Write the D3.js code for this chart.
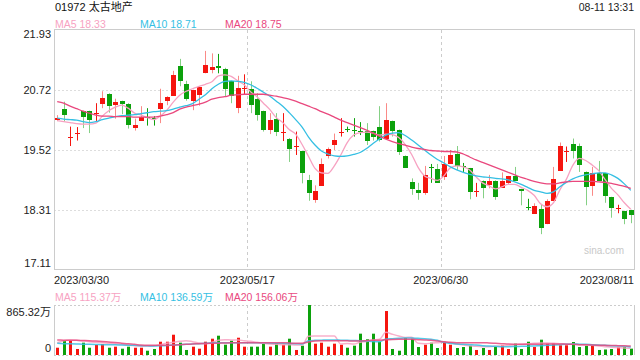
<!DOCTYPE html>
<html>
<head>
<meta charset="utf-8">
<script src="https://cdn.jsdelivr.net/npm/d3@7"></script>
<style>
  body { margin: 0; background: #fff; }
  text { font-family: "Liberation Sans", Arial, "Noto Sans CJK SC", sans-serif; }
</style>
</head>
<body>
<div id="chart"></div>
<script>
// kline data, 01972 daily
const dates = [
  "2023/03/30","2023/03/31",
  "2023/04/03","2023/04/04","2023/04/06","2023/04/11","2023/04/12","2023/04/13","2023/04/14","2023/04/17","2023/04/18",
  "2023/04/19","2023/04/20","2023/04/21","2023/04/24","2023/04/25","2023/04/26","2023/04/27","2023/04/28",
  "2023/05/02","2023/05/03","2023/05/04","2023/05/05","2023/05/08","2023/05/09","2023/05/10","2023/05/11","2023/05/12",
  "2023/05/15","2023/05/16","2023/05/17","2023/05/18","2023/05/19","2023/05/22","2023/05/23","2023/05/24","2023/05/25",
  "2023/05/29","2023/05/30","2023/05/31",
  "2023/06/01","2023/06/02","2023/06/05","2023/06/06","2023/06/07","2023/06/08","2023/06/09","2023/06/12","2023/06/13",
  "2023/06/14","2023/06/15","2023/06/16","2023/06/19","2023/06/20","2023/06/21","2023/06/23","2023/06/26","2023/06/27",
  "2023/06/28","2023/06/29","2023/06/30",
  "2023/07/03","2023/07/04","2023/07/05","2023/07/06","2023/07/07","2023/07/10","2023/07/11","2023/07/12","2023/07/13",
  "2023/07/14","2023/07/18","2023/07/19","2023/07/20","2023/07/21","2023/07/24","2023/07/25","2023/07/26","2023/07/27",
  "2023/07/28","2023/07/31",
  "2023/08/01","2023/08/02","2023/08/03","2023/08/04","2023/08/07","2023/08/08","2023/08/09","2023/08/10","2023/08/11"
];
const opens = [
  20.13, 20.34, 19.77, 19.84, 20.30, 20.30, 20.25, 20.44, 20.65, 20.41,
  20.50, 20.44, 19.95, 20.11, 20.19, 20.16, 20.34, 20.51, 20.61, 21.21,
  20.85, 20.51, 20.62, 21.06, 21.11, 21.21, 21.15, 20.90, 20.36, 20.75,
  20.75, 20.54, 20.30, 19.92, 20.14, 19.87, 19.75, 19.59, 19.49, 18.92,
  18.52, 18.80, 19.39, 19.62, 19.86, 19.95, 19.92, 19.91, 19.90, 19.90,
  19.99, 19.74, 20.10, 19.92, 19.40, 18.87, 18.72, 18.66, 19.18, 19.14,
  18.98, 19.24, 19.44, 19.19, 19.15, 18.67, 18.90, 18.80, 18.90, 18.76,
  18.85, 19.00, 18.73, 18.38, 18.24, 18.33, 18.03, 18.50, 19.10, 19.47,
  19.64, 19.60, 19.08, 18.80, 19.06, 19.05, 18.57, 18.34, 18.29, 18.31
];
const highs = [
  20.22, 20.49, 19.99, 19.98, 20.31, 20.31, 20.46, 20.70, 20.66, 20.55,
  20.51, 20.46, 20.15, 20.40, 20.36, 20.20, 20.75, 20.60, 21.11, 21.35,
  20.91, 20.73, 20.79, 21.51, 21.46, 21.45, 21.17, 20.91, 21.01, 21.04,
  20.90, 20.66, 20.31, 20.26, 20.26, 20.26, 19.76, 19.89, 19.50, 19.02,
  18.81, 19.35, 19.57, 19.85, 20.16, 19.99, 20.16, 20.08, 20.06, 19.91,
  20.40, 20.46, 20.11, 19.93, 19.41, 18.95, 18.86, 19.20, 19.24, 19.24,
  19.40, 19.52, 19.60, 19.26, 19.16, 18.86, 18.91, 19.02, 18.91, 19.07,
  19.00, 19.18, 18.74, 18.54, 18.45, 18.43, 18.53, 19.18, 19.67, 19.59,
  19.75, 19.65, 19.09, 19.18, 19.30, 19.06, 18.58, 18.42, 18.30, 18.32
];
const lows = [
  20.10, 20.09, 19.60, 19.71, 19.96, 19.86, 20.09, 20.36, 20.27, 20.15,
  20.24, 19.95, 19.91, 20.11, 20.01, 20.01, 20.06, 20.42, 20.61, 20.80,
  20.51, 20.32, 20.41, 21.06, 21.06, 21.06, 20.59, 20.46, 20.26, 20.64,
  20.26, 20.11, 19.89, 19.84, 19.80, 19.70, 19.28, 19.42, 18.85, 18.50,
  18.46, 18.80, 19.35, 19.52, 19.79, 19.88, 19.79, 19.82, 19.62, 19.71,
  19.69, 19.74, 19.79, 19.42, 19.16, 18.62, 18.52, 18.62, 18.86, 18.86,
  18.92, 19.24, 19.12, 19.08, 18.53, 18.58, 18.55, 18.75, 18.52, 18.76,
  18.83, 18.90, 18.41, 18.31, 18.24, 17.83, 18.03, 18.50, 19.10, 19.28,
  19.35, 19.08, 18.41, 18.60, 18.90, 18.46, 18.16, 18.25, 18.03, 18.05
];
const closes = [
  20.17, 20.21, 19.79, 19.86, 20.17, 20.11, 20.27, 20.56, 20.41, 20.48,
  20.44, 20.01, 20.02, 20.19, 20.16, 20.15, 20.47, 20.59, 21.03, 20.91,
  20.55, 20.73, 20.79, 21.23, 21.18, 21.17, 20.75, 20.59, 20.76, 20.77,
  20.42, 20.21, 19.92, 20.12, 19.87, 19.89, 19.54, 19.61, 19.04, 18.66,
  18.70, 19.24, 19.54, 19.72, 19.88, 19.93, 19.90, 19.89, 19.70, 19.77,
  19.73, 20.12, 19.89, 19.47, 19.16, 18.72, 18.65, 19.02, 19.16, 18.86,
  19.24, 19.42, 19.20, 19.16, 18.66, 18.69, 18.76, 18.89, 18.58, 18.90,
  19.00, 18.90, 18.68, 18.36, 18.40, 17.95, 18.49, 18.94, 19.60, 19.49,
  19.50, 19.22, 18.78, 19.06, 18.90, 18.58, 18.34, 18.36, 18.13, 18.21
];
const ma5 = [
  20.11, 20.09, 20.07, 20.05, 20.04, 20.04, 20.06, 20.20, 20.31, 20.38,
  20.42, 20.36, 20.26, 20.22, 20.17, 20.13, 20.20, 20.32, 20.48, 20.62,
  20.70, 20.75, 20.80, 20.84, 20.89, 21.01, 21.03, 21.00, 20.91, 20.83,
  20.69, 20.59, 20.46, 20.33, 20.17, 20.07, 19.93, 19.84, 19.63, 19.39,
  19.15, 19.06, 19.05, 19.20, 19.42, 19.67, 19.82, 19.87, 19.88, 19.86,
  19.82, 19.84, 19.83, 19.77, 19.63, 19.43, 19.17, 19.00, 18.95, 18.91,
  19.00, 19.16, 19.20, 19.18, 19.12, 18.98, 18.86, 18.80, 18.74, 18.78,
  18.83, 18.83, 18.77, 18.71, 18.61, 18.44, 18.38, 18.46, 18.72, 18.93,
  19.21, 19.35, 19.31, 19.22, 19.11, 18.93, 18.75, 18.62, 18.46, 18.33
];
const ma10 = [
  20.16, 20.14, 20.13, 20.12, 20.09, 20.07, 20.09, 20.13, 20.16, 20.19,
  20.21, 20.22, 20.23, 20.25, 20.27, 20.29, 20.30, 20.31, 20.34, 20.38,
  20.41, 20.45, 20.54, 20.63, 20.75, 20.84, 20.90, 20.91, 20.90, 20.88,
  20.83, 20.76, 20.68, 20.60, 20.50, 20.40, 20.27, 20.13, 19.98, 19.78,
  19.62, 19.50, 19.44, 19.40, 19.39, 19.40, 19.43, 19.47, 19.55, 19.65,
  19.74, 19.82, 19.86, 19.87, 19.81, 19.72, 19.62, 19.52, 19.42, 19.33,
  19.26, 19.18, 19.12, 19.07, 19.03, 19.00, 18.98, 18.97, 18.95, 18.94,
  18.92, 18.88, 18.83, 18.77, 18.71, 18.68, 18.65, 18.68, 18.78, 18.87,
  18.94, 18.99, 19.02, 19.04, 19.06, 19.06, 19.02, 18.95, 18.84, 18.71
];
const ma20 = [
  20.49, 20.46, 20.40, 20.35, 20.30, 20.26, 20.22, 20.20, 20.20, 20.19,
  20.19, 20.19, 20.18, 20.18, 20.18, 20.18, 20.20, 20.23, 20.27, 20.34,
  20.38, 20.41, 20.44, 20.48, 20.54, 20.57, 20.59, 20.62, 20.63, 20.64,
  20.64, 20.64, 20.64, 20.62, 20.60, 20.57, 20.54, 20.50, 20.45, 20.40,
  20.35, 20.29, 20.24, 20.18, 20.12, 20.07, 20.02, 19.97, 19.92, 19.86,
  19.80, 19.74, 19.69, 19.65, 19.62, 19.58, 19.55, 19.53, 19.51, 19.50,
  19.49, 19.49, 19.48, 19.44, 19.38, 19.32, 19.27, 19.22, 19.17, 19.12,
  19.07, 19.02, 18.97, 18.93, 18.89, 18.86, 18.84, 18.84, 18.86, 18.88,
  18.89, 18.89, 18.89, 18.89, 18.88, 18.87, 18.85, 18.82, 18.79, 18.75
];
// volume in 万 shares
const volumes = [
  126, 247, 247, 104, 213, 126, 173, 190, 126, 144,
  109, 144, 126, 126, 74, 104, 230, 230, 351, 213,
  87, 144, 109, 230, 282, 334, 178, 247, 299, 144,
  144, 144, 190, 144, 202, 178, 282, 87, 161, 865.32,
  196, 213, 144, 196, 178, 126, 161, 369, 272, 369,
  230, 761, 104, 74, 299, 282, 138, 178, 213, 121,
  230, 178, 121, 138, 161, 87, 121, 87, 138, 173,
  104, 196, 104, 230, 138, 265, 196, 208, 168, 168,
  225, 138, 161, 173, 87, 95, 104, 138, 138, 110
];
const volMa5 = [
  213, 248, 260, 254, 242, 231, 219, 213, 202, 196,
  185, 173, 162, 156, 150, 156, 179, 202, 219, 237,
  248, 231, 208, 196, 219, 254, 265, 260, 260, 248,
  237, 219, 202, 190, 185, 179, 179, 173, 173, 323,
  329, 329, 329, 329, 190, 200, 190, 220, 235, 260,
  271, 392, 360, 330, 305, 306, 202, 196, 202, 213,
  225, 213, 190, 173, 162, 150, 144, 144, 150, 162,
  167, 179, 185, 196, 202, 208, 208, 202, 196, 190,
  185, 179, 173, 167, 156, 144, 133, 127, 121, 115.37
];
const volMa10 = [
  202, 196, 193, 190, 187, 185, 182, 179, 179, 176,
  173, 170, 167, 162, 159, 156, 159, 164, 173, 179,
  185, 190, 196, 202, 208, 213, 213, 213, 213, 213,
  213, 213, 211, 208, 205, 202, 199, 196, 190, 248,
  254, 257, 260, 260, 257, 254, 251, 248, 242, 234,
  231, 277, 283, 288, 294, 294, 288, 283, 271, 254,
  219, 202, 190, 185, 179, 173, 162, 156, 150, 144,
  144, 147, 150, 153, 156, 162, 167, 173, 179, 185,
  190, 187, 185, 179, 173, 167, 162, 156, 150, 136.59
];
const volMa20 = [
  260, 257, 254, 254, 251, 248, 242, 234, 225, 216,
  205, 193, 185, 173, 167, 167, 167, 167, 170, 176,
  185, 190, 196, 199, 202, 205, 208, 211, 213, 213,
  213, 213, 213, 213, 213, 213, 208, 202, 205, 225,
  242, 248, 248, 248, 248, 245, 242, 242, 248, 254,
  257, 262, 268, 271, 271, 271, 265, 260, 254, 242,
  231, 219, 213, 213, 213, 213, 213, 208, 202, 196,
  190, 187, 185, 185, 185, 187, 190, 190, 190, 187,
  185, 179, 176, 173, 170, 167, 164, 162, 159, 156.06
];
const priceTicks = [17.11, 18.315, 19.52, 20.725, 21.93];
const priceLabels = ["17.11", "18.31", "19.52", "20.72", "21.93"];
const volTicks = [0, 865.32];
const volLabels = ["0", "865.32万"];
const dateTickIdx = [0, 30, 60, 89];

(function() {
    const W = 640, H = 360;
    const plot = { left: 54, right: 634, top: 30, bottom: 270 };
    const vol = { top: 305, bottom: 355 };
    const upColor = "#f5150f", downColor = "#0ca10c";
    const maColors = ["#f7a2c2", "#35bfe3", "#e9487e"];

    const svg = d3.select("#chart")
        .append("svg")
        .attr("width", W)
        .attr("height", H);

    const x = d3.scaleBand()
        .domain(dates)
        .range([plot.left, plot.right])
        .paddingInner(0.22)
        .paddingOuter(0.11);
    const cx = d => x(d) + x.bandwidth() / 2;
    const edge = i => i === dates.length - 1 ? plot.right : cx(dates[i]) - x.step() / 2;

    const y = d3.scaleLinear().domain([17.11, 21.93]).range([plot.bottom, plot.top]);
    const yv = d3.scaleLinear().domain([0, 865.32]).range([vol.bottom, vol.top]);

    const candles = dates.map((d, i) => ({
        date: d, o: opens[i], h: highs[i], l: lows[i], c: closes[i], v: volumes[i]
    }));
    const colorOf = d => d.c >= d.o ? upColor : downColor;

    // grid: dotted horizontals, dashed verticals
    svg.append("g")
        .selectAll("line")
        .data(priceTicks.slice(1, -1))
        .enter()
        .append("line")
        .attr("x1", plot.left).attr("x2", plot.right)
        .attr("y1", d => Math.round(y(d)) + 0.5).attr("y2", d => Math.round(y(d)) + 0.5)
        .attr("stroke", "#ddd")
        .attr("stroke-dasharray", "2,2");

    [[plot.top, plot.bottom], [vol.top, vol.bottom]].forEach(([t, b]) => {
        svg.append("g")
            .selectAll("line")
            .data(dateTickIdx.slice(1, -1))
            .enter()
            .append("line")
            .attr("x1", i => Math.round(edge(i)) + 0.5).attr("x2", i => Math.round(edge(i)) + 0.5)
            .attr("y1", t).attr("y2", b)
            .attr("stroke", "#ccc")
            .attr("stroke-dasharray", "3,3");
    });

    // borders
    svg.append("rect")
        .attr("x", plot.left + 0.5).attr("y", plot.top - 0.5)
        .attr("width", plot.right - plot.left).attr("height", plot.bottom - plot.top)
        .attr("fill", "none")
        .attr("stroke", "#ccc");
    [vol.top, vol.bottom].forEach(v => {
        svg.append("line")
            .attr("x1", plot.left).attr("x2", plot.right)
            .attr("y1", v + 0.5).attr("y2", v + 0.5)
            .attr("stroke", "#ccc")
            .attr("stroke-dasharray", "2,2");
    });
    [plot.left, plot.right].forEach(v => {
        svg.append("line")
            .attr("x1", v + 0.5).attr("x2", v + 0.5)
            .attr("y1", vol.top).attr("y2", vol.bottom)
            .attr("stroke", "#ccc");
    });

    // watermark
    svg.append("text")
        .attr("x", 624).attr("y", 254)
        .attr("text-anchor", "end")
        .attr("font-size", "10px")
        .attr("fill", "#c8c8c8")
        .text("sina.com");

    // candles
    const cg = svg.append("g");
    cg.selectAll("line.wick")
        .data(candles)
        .enter()
        .append("line")
        .attr("class", "wick")
        .attr("x1", d => Math.round(cx(d.date)) + 0.5).attr("x2", d => Math.round(cx(d.date)) + 0.5)
        .attr("y1", d => y(d.h)).attr("y2", d => y(d.l))
        .attr("stroke", colorOf)
        .attr("stroke-opacity", d => Math.abs(d.c - d.o) < 0.04 ? 1 : 0.5);

    cg.selectAll("rect.body")
        .data(candles)
        .enter()
        .append("rect")
        .attr("class", "body")
        .attr("x", d => Math.round(cx(d.date)) - 2)
        .attr("y", d => Math.round(y(Math.max(d.o, d.c))))
        .attr("width", 5)
        .attr("height", d => Math.max(1, Math.round(Math.abs(y(d.o) - y(d.c)))))
        .attr("fill", colorOf);

    // MA lines
    const line = d3.line()
        .x((d, i) => cx(dates[i]))
        .y(d => y(d))
        .curve(d3.curveMonotoneX);
    [ma5, ma10, ma20].forEach((s, k) => {
        svg.append("path")
            .datum(s)
            .attr("d", line)
            .attr("fill", "none")
            .attr("stroke", maColors[k])
            .attr("stroke-width", 1.3);
    });

    // volume bars
    svg.append("g")
        .selectAll("rect")
        .data(candles)
        .enter()
        .append("rect")
        .attr("x", d => Math.round(cx(d.date)) - 1)
        .attr("y", d => yv(d.v))
        .attr("width", 3)
        .attr("height", d => vol.bottom - yv(d.v))
        .attr("fill", colorOf);

    const vline = d3.line()
        .x((d, i) => cx(dates[i]))
        .y(d => yv(d))
        .curve(d3.curveMonotoneX);
    [volMa5, volMa10, volMa20].forEach((s, k) => {
        svg.append("path")
            .datum(s)
            .attr("d", vline)
            .attr("fill", "none")
            .attr("stroke", maColors[k])
            .attr("stroke-opacity", 0.85)
            .attr("stroke-width", 1.5);
    });

    // y axes
    const yAxis = svg.append("g")
        .attr("transform", `translate(${plot.left},0)`)
        .call(d3.axisLeft(y).tickValues(priceTicks).tickSize(0).tickPadding(3)
            .tickFormat((d, i) => priceLabels[i]));
    const vAxis = svg.append("g")
        .attr("transform", `translate(${plot.left},0)`)
        .call(d3.axisLeft(yv).tickValues(volTicks).tickSize(0).tickPadding(3)
            .tickFormat((d, i) => volLabels[i]));
    [yAxis, vAxis].forEach(g => {
        g.select(".domain").remove();
        g.selectAll("text")
            .attr("font-size", "11px")
            .attr("font-family", null)
            .attr("fill", "#222");
        const t = g.selectAll("text").nodes();
        d3.select(t[0]).attr("dy", "-0.28em");
        d3.select(t[t.length - 1]).attr("dy", g === vAxis ? "0.92em" : "0.7em");
    });

    // date labels
    svg.append("g")
        .selectAll("text")
        .data(dateTickIdx)
        .enter()
        .append("text")
        .attr("x", i => edge(i))
        .attr("y", 284)
        .attr("text-anchor", (i, k) => k === 0 ? "start" : (k === dateTickIdx.length - 1 ? "end" : "middle"))
        .attr("font-size", "11px")
        .attr("fill", "#222")
        .text(i => dates[i]);

    // title + legends
    svg.append("text")
        .attr("x", 55).attr("y", 11)
        .attr("font-size", "11px")
        .attr("fill", "#111")
        .text("01972 太古地产");
    svg.append("text")
        .attr("x", plot.right).attr("y", 11)
        .attr("text-anchor", "end")
        .attr("font-size", "10.5px")
        .attr("fill", "#222")
        .text("08-11 13:31");

    const last = dates.length - 1;
    const legendX = [55, 140, 225];
    const names = ["MA5", "MA10", "MA20"];
    [ma5, ma10, ma20].forEach((s, k) => {
        svg.append("text")
            .attr("x", legendX[k]).attr("y", 28)
            .attr("font-size", "10.5px")
            .attr("fill", maColors[k])
            .text(`${names[k]} ${s[last].toFixed(2)}`);
    });
    [volMa5, volMa10, volMa20].forEach((s, k) => {
        svg.append("text")
            .attr("x", legendX[k]).attr("y", 301)
            .attr("font-size", "10.5px")
            .attr("fill", maColors[k])
            .text(`${names[k]} ${s[last].toFixed(2)}万`);
    });
})();
</script>
</body>
</html>
